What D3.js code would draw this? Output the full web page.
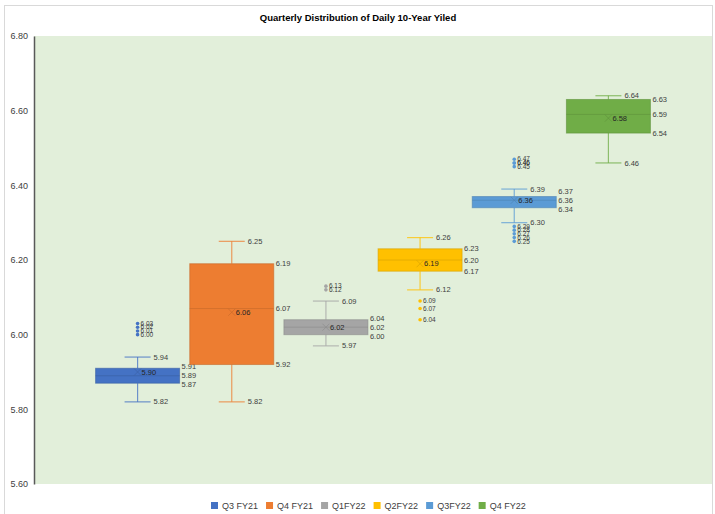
<!DOCTYPE html>
<html>
<head>
<meta charset="utf-8">
<script src="https://cdn.jsdelivr.net/npm/d3@7"></script>
<style>
  body { margin: 0; background: #fff; }
  text { font-family: "Liberation Sans", "DejaVu Sans", sans-serif; }
</style>
</head>
<body>
<div id="chart"></div>
<script>
// series (quarters) and their box statistics
const series = ["Q3 FY21", "Q4 FY21", "Q1FY22", "Q2FY22", "Q3FY22", "Q4 FY22"];
const colors = ["#4472C4", "#ED7D31", "#A5A5A5", "#FFC000", "#5B9BD5", "#70AD47"];
const whiskerLow = [5.82, 5.82, 5.97, 6.12, 6.30, 6.46];
const q1 = [5.87, 5.92, 6.00, 6.17, 6.34, 6.54];
const median = [5.89, 6.07, 6.02, 6.20, 6.36, 6.59];
const q3 = [5.91, 6.19, 6.04, 6.23, 6.37, 6.63];
const whiskerHigh = [5.94, 6.25, 6.09, 6.26, 6.39, 6.64];
const mean = [5.90, 6.06, 6.02, 6.19, 6.36, 6.58];
const outliers = [
  [6.03, 6.02, 6.01, 6.00],
  [],
  [6.13, 6.12],
  [6.09, 6.07, 6.04],
  [6.47, 6.46, 6.46, 6.45, 6.29, 6.28, 6.27, 6.26, 6.25],
  []
];
const yTicks = [5.60, 5.80, 6.00, 6.20, 6.40, 6.60, 6.80];

const width = 715, height = 514;
const plot = { left: 34, right: 712, top: 36, bottom: 484 };

const svg = d3.select("#chart").append("svg")
  .attr("width", width)
  .attr("height", height);

// outer chart border
svg.append("rect")
  .attr("x", 4.5).attr("y", 5.5)
  .attr("width", 708).attr("height", 510)
  .attr("fill", "none")
  .attr("stroke", "#d9d9d9");

// plot background
svg.append("rect")
  .attr("x", plot.left).attr("y", plot.top)
  .attr("width", plot.right - plot.left).attr("height", plot.bottom - plot.top)
  .attr("fill", "#E2EFDA");

const y = d3.scaleLinear().domain([5.6, 6.8]).range([plot.bottom, plot.top]);
const x = d3.scalePoint().domain(series).range([plot.left, plot.right]).padding(1.1);
const boxW = 84, capW = 26;

// title
svg.append("text")
  .attr("x", 358).attr("y", 21)
  .attr("text-anchor", "middle")
  .attr("font-size", 9.5)
  .attr("font-weight", "bold")
  .attr("fill", "#000")
  .text("Quarterly Distribution of Daily 10-Year Yiled");

// y axis
const yAxis = svg.append("g")
  .attr("transform", `translate(${plot.left},0)`)
  .call(d3.axisLeft(y).tickValues(yTicks).tickFormat(d3.format(".2f")).tickSize(0).tickPadding(6));
yAxis.select(".domain").attr("stroke", "#595959").attr("stroke-width", 1.5);
yAxis.selectAll("text").attr("font-size", 9).attr("fill", "#404040")
  .style("font-family", "Liberation Sans, sans-serif");

const fmt = d3.format(".2f");
const lblColor = "#404040";

series.forEach((s, i) => {
  const cx = x(s);
  const c = colors[i];
  const dark = d3.color(c).darker(0.5);
  const g = svg.append("g");

  // whiskers
  g.append("line")
    .attr("x1", cx).attr("x2", cx)
    .attr("y1", y(whiskerLow[i])).attr("y2", y(q1[i]))
    .attr("stroke", c).attr("stroke-opacity", 0.75).attr("stroke-width", 1.2);
  g.append("line")
    .attr("x1", cx).attr("x2", cx)
    .attr("y1", y(q3[i])).attr("y2", y(whiskerHigh[i]))
    .attr("stroke", c).attr("stroke-opacity", 0.75).attr("stroke-width", 1.2);
  [whiskerLow[i], whiskerHigh[i]].forEach(v => {
    g.append("line")
      .attr("x1", cx - capW / 2).attr("x2", cx + capW / 2)
      .attr("y1", y(v)).attr("y2", y(v))
      .attr("stroke", c).attr("stroke-opacity", 0.75).attr("stroke-width", 1.2);
    g.append("text")
      .attr("x", cx + capW / 2 + 3).attr("y", y(v)).attr("dy", "0.35em")
      .attr("font-size", 7.5).attr("fill", lblColor)
      .text(fmt(v));
  });

  // box
  g.append("rect")
    .attr("x", cx - boxW / 2).attr("width", boxW)
    .attr("y", y(q3[i])).attr("height", y(q1[i]) - y(q3[i]))
    .attr("fill", c)
    .attr("stroke", dark).attr("stroke-opacity", 0.6).attr("stroke-width", 1);

  // median
  g.append("line")
    .attr("x1", cx - boxW / 2).attr("x2", cx + boxW / 2)
    .attr("y1", y(median[i])).attr("y2", y(median[i]))
    .attr("stroke", dark).attr("stroke-opacity", 0.6).attr("stroke-width", 1);

  // box labels
  [q3[i], median[i], q1[i]].forEach((v, k) => {
    let yy = y(v);
    if (k === 0 && y(median[i]) - yy < 9) yy = y(median[i]) - 9;
    if (k === 2 && yy - y(median[i]) < 9) yy = y(median[i]) + 9;
    g.append("text")
      .attr("x", cx + boxW / 2 + 2).attr("y", yy).attr("dy", "0.35em")
      .attr("font-size", 7.5).attr("fill", lblColor)
      .text(fmt(v));
  });

  // mean marker
  const my = y(mean[i]), m = 3.5;
  g.append("path")
    .attr("d", `M${cx - m},${my - m}L${cx + m},${my + m}M${cx - m},${my + m}L${cx + m},${my - m}`)
    .attr("stroke", dark).attr("stroke-opacity", 0.6).attr("stroke-width", 1);
  g.append("text")
    .attr("x", cx + 4).attr("y", my).attr("dy", "0.35em")
    .attr("font-size", 7.5).attr("fill", "#262626")
    .text(fmt(mean[i]));

  // outliers (labels stacked tightly, as in the source chart)
  outliers[i].forEach(v => {
    g.append("circle")
      .attr("cx", cx).attr("cy", y(v)).attr("r", 1.8)
      .attr("fill", c);
    g.append("text")
      .attr("x", cx + 3).attr("y", y(v)).attr("dy", "0.35em")
      .attr("font-size", 6.5).attr("fill", lblColor)
      .text(fmt(v));
  });
});

// legend
const legend = svg.append("g").attr("transform", "translate(0,506)");
let lx = 211;
series.forEach((s, i) => {
  legend.append("rect")
    .attr("x", lx).attr("y", -4).attr("width", 7).attr("height", 7)
    .attr("fill", colors[i]);
  const t = legend.append("text")
    .attr("x", lx + 11).attr("y", 0).attr("dy", "0.35em")
    .attr("font-size", 9).attr("fill", "#404040")
    .text(s);
  lx += 11 + t.node().getComputedTextLength() + 8;
});
</script>
</body>
</html>
